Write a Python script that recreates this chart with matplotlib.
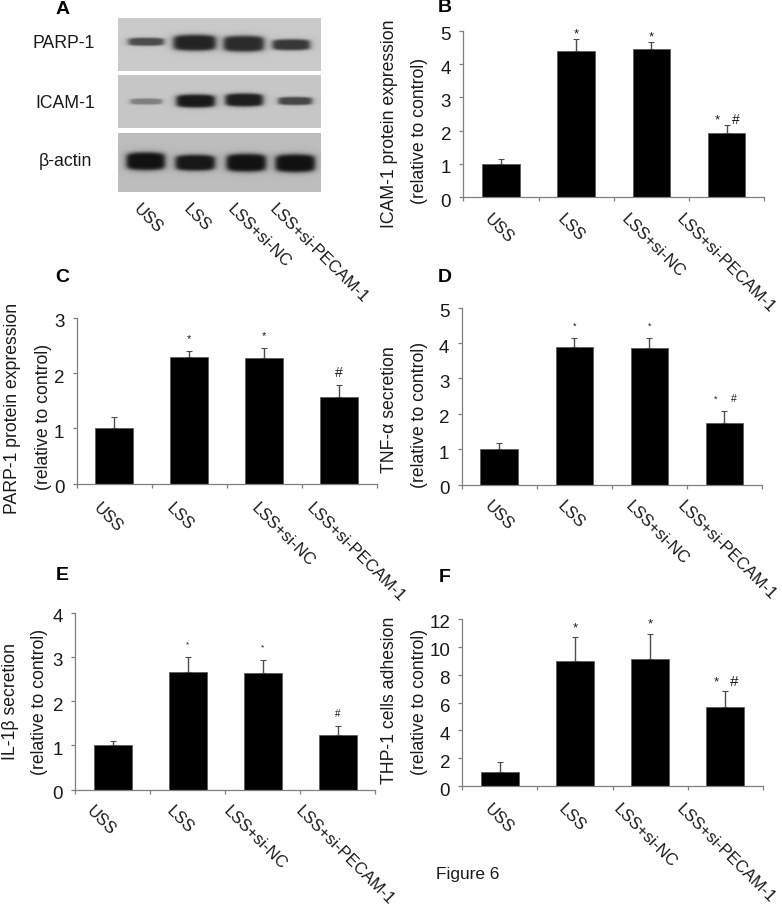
import numpy as np
import matplotlib
matplotlib.use('Agg')
import matplotlib.pyplot as plt
from matplotlib.transforms import ScaledTranslation

plt.rcParams['font.family'] = ['Liberation Sans', 'DejaVu Sans']

W, H = 782, 908
AXIS_COLOR = '#7f7f7f'
ERR_COLOR = '#4d4d4d'
TEXT_COLOR = '#1a1a1a'

# datos de las barras
groups = ['USS', 'LSS', 'LSS+si-NC', 'LSS+si-PECAM-1']

icam_vals = [1.0, 4.38, 4.44, 1.92]
icam_err = [0.15, 0.37, 0.22, 0.25]
icam_ticks = [0, 1, 2, 3, 4, 5]
icam_marks = ['', '*', '*', '* #']

parp_vals = [1.0, 2.29, 2.28, 1.57]
parp_err = [0.20, 0.11, 0.18, 0.22]
parp_ticks = [0, 1, 2, 3]
parp_marks = ['', '*', '*', '#']

tnf_vals = [1.0, 3.88, 3.86, 1.75]
tnf_err = [0.17, 0.25, 0.29, 0.33]
tnf_ticks = [0, 1, 2, 3, 4, 5]
tnf_marks = ['', '*', '*', '* #']

il1_vals = [1.0, 2.65, 2.63, 1.24]
il1_err = [0.11, 0.36, 0.31, 0.19]
il1_ticks = [0, 1, 2, 3, 4]
il1_marks = ['', '*', '*', '#']

thp_vals = [1.0, 9.0, 9.15, 5.7]
thp_err = [0.7, 1.7, 1.8, 1.1]
thp_ticks = [0, 2, 4, 6, 8, 10, 12]
thp_marks = ['', '*', '*', '* #']

# bandas del western blot: x inicio, x fin, y centro, alto, gris
parp_bands = [(128, 164, 41.5, 8, 0.30), (173, 216, 42.5, 16, 0.14),
              (223, 264, 43.5, 16, 0.17), (272, 310, 44.5, 11, 0.22)]
icam_bands = [(130, 162, 102, 6, 0.50), (176, 215, 101.5, 13, 0.10),
              (225, 263, 100.5, 13, 0.12), (278, 312, 101.5, 8, 0.28)]
actin_bands = [(126, 165, 161, 18, 0.07), (175, 215, 162.5, 16, 0.09),
               (226, 266, 162.5, 18, 0.07), (275, 315, 163, 18, 0.07)]


def to_fig(x, y):
    return x / W, 1 - y / H


def add_text(x, y, s, **kw):
    kw.setdefault('color', TEXT_COLOR)
    fig.text(*to_fig(x, y), s, **kw)


def draw_blot(box, bands, bg):
    x0, x1, y0, y1 = box
    ax = fig.add_axes([x0 / W, 1 - y1 / H, (x1 - x0) / W, (y1 - y0) / H])
    xx, yy = np.meshgrid(np.arange(x0, x1, 0.5), np.arange(y0, y1, 0.5))
    img = np.full(xx.shape, bg)
    for b0, b1, yc, h, level in bands:
        dx = np.abs(xx - (b0 + b1) / 2) / ((b1 - b0) / 2)
        dy = np.abs(yy - yc) / (h / 2)
        d = dx ** 6 + dy ** 4 * (1 + 0.6 * dx ** 2)
        img = img - (img - level) / (1 + d ** 2)
    ax.imshow(img, cmap='gray', vmin=0, vmax=1, aspect='auto',
              extent=[x0, x1, y1, y0], interpolation='bilinear')
    ax.axis('off')


def draw_bars(box, vals, err, ticks, marks, gap, star_size, hash_size):
    left, right, y0, top = box
    ax = fig.add_axes([left / W, 1 - y0 / H, (right - left) / W, (y0 - top) / H])
    pos = np.arange(len(vals)) + 0.5
    ax.bar(pos, vals, width=0.5, color='black', edgecolor='#555555', linewidth=0.5, zorder=2)
    ax.errorbar(pos, vals, yerr=[np.zeros(len(err)), err], fmt='none', ecolor=ERR_COLOR,
                elinewidth=1, capsize=2, capthick=0.8, zorder=1)
    ax.set_xlim(0, len(vals))
    ax.set_ylim(0, ticks[-1])
    ax.set_yticks(ticks)
    ax.set_xticks(np.arange(len(vals) + 1))
    ax.set_xticklabels([])
    ax.tick_params(axis='both', color=AXIS_COLOR, length=3, width=0.9)
    ax.tick_params(axis='y', labelsize=13.5, labelcolor=TEXT_COLOR, pad=5.8)
    # los numeros del eje y quedan un poco por debajo de la marca
    shift = ScaledTranslation(0, -3 / 100, fig.dpi_scale_trans)
    for lab in ax.get_yticklabels():
        lab.set_transform(lab.get_transform() + shift)
    for side in ['top', 'right']:
        ax.spines[side].set_visible(False)
    for side in ['left', 'bottom']:
        ax.spines[side].set_color(AXIS_COLOR)
        ax.spines[side].set_linewidth(0.9)
    # asteriscos y almohadillas sobre las barras
    for p, v, e, m in zip(pos, vals, err, marks):
        parts = m.split()
        offsets = [0] if len(parts) == 1 else [-9, 9]
        for part, off in zip(parts, offsets):
            ax.annotate(part, (p, v + e), xytext=(off * 0.72, gap * 0.72),
                        textcoords='offset points', ha='center', va='center',
                        fontsize=star_size if part == '*' else hash_size, color=TEXT_COLOR)


def group_labels(xs, y):
    for x, s in zip(xs, groups):
        add_text(x + 3, y + 4, s, fontsize=12, rotation=-45, ha='left', va='center',
                 rotation_mode='anchor')


def y_labels(x1, yc1, s1, x2, yc2):
    add_text(x1, yc1, s1, fontsize=12.7, rotation=90, ha='center', va='center')
    add_text(x2, yc2, '(relative to control)', fontsize=12.7, rotation=90, ha='center', va='center')


fig = plt.figure(figsize=(W / 100, H / 100), dpi=100)

# panel A
draw_blot((118, 321, 18, 71), parp_bands, 0.79)
draw_blot((118, 321, 75, 128.5), icam_bands, 0.78)
draw_blot((118, 321, 133, 192), actin_bands, 0.74)
add_text(64, 43, 'PARP-1', fontsize=12.7, ha='center', va='center')
add_text(65, 103, 'ICAM-1', fontsize=12.7, ha='center', va='center')
add_text(65, 162, 'β-actin', fontsize=12.7, ha='center', va='center')
group_labels([133, 183, 227, 269], 203)

# paneles de barras
draw_bars((463.3, 764.3, 197.3, 30.7), icam_vals, icam_err, icam_ticks, icam_marks, 5, 9.5, 10)
y_labels(390, 124, 'ICAM-1 protein expression', 420, 131)
group_labels([484, 557, 621, 676], 213)

draw_bars((76.7, 376.7, 483.7, 317.7), parp_vals, parp_err, parp_ticks, parp_marks, 12, 8, 10)
y_labels(13, 408, 'PARP-1 protein expression', 44, 417)
group_labels([93, 166, 251, 306], 502)

draw_bars((461.7, 762, 484.7, 307.7), tnf_vals, tnf_err, tnf_ticks, tnf_marks, 12, 6.5, 7.5)
y_labels(390, 410, 'TNF-α secretion', 420, 415)
group_labels([484, 557, 625, 677], 500)

draw_bars((75.3, 375.3, 789.7, 612.7), il1_vals, il1_err, il1_ticks, il1_marks, 12, 6, 7)
y_labels(11, 702, 'IL-1β secretion', 40, 702)
group_labels([86, 166, 223, 295], 805)

draw_bars((462.3, 762.7, 786, 619), thp_vals, thp_err, thp_ticks, thp_marks, 9, 9.5, 11)
y_labels(390, 700, 'THP-1 cells adhesion', 420, 702)
group_labels([484, 558, 613, 676], 803)

# letras de los paneles
for letter, x, y in [('A', 63, 10), ('B', 445, 8), ('C', 62, 277),
                     ('D', 445, 277), ('E', 62, 576), ('F', 445, 577)]:
    add_text(x, y, letter, fontsize=14, fontweight='bold', ha='center', va='center', color='black')

add_text(436, 874, 'Figure 6', fontsize=12.4, ha='left', va='center')

fig.savefig('out.png', dpi=100)
